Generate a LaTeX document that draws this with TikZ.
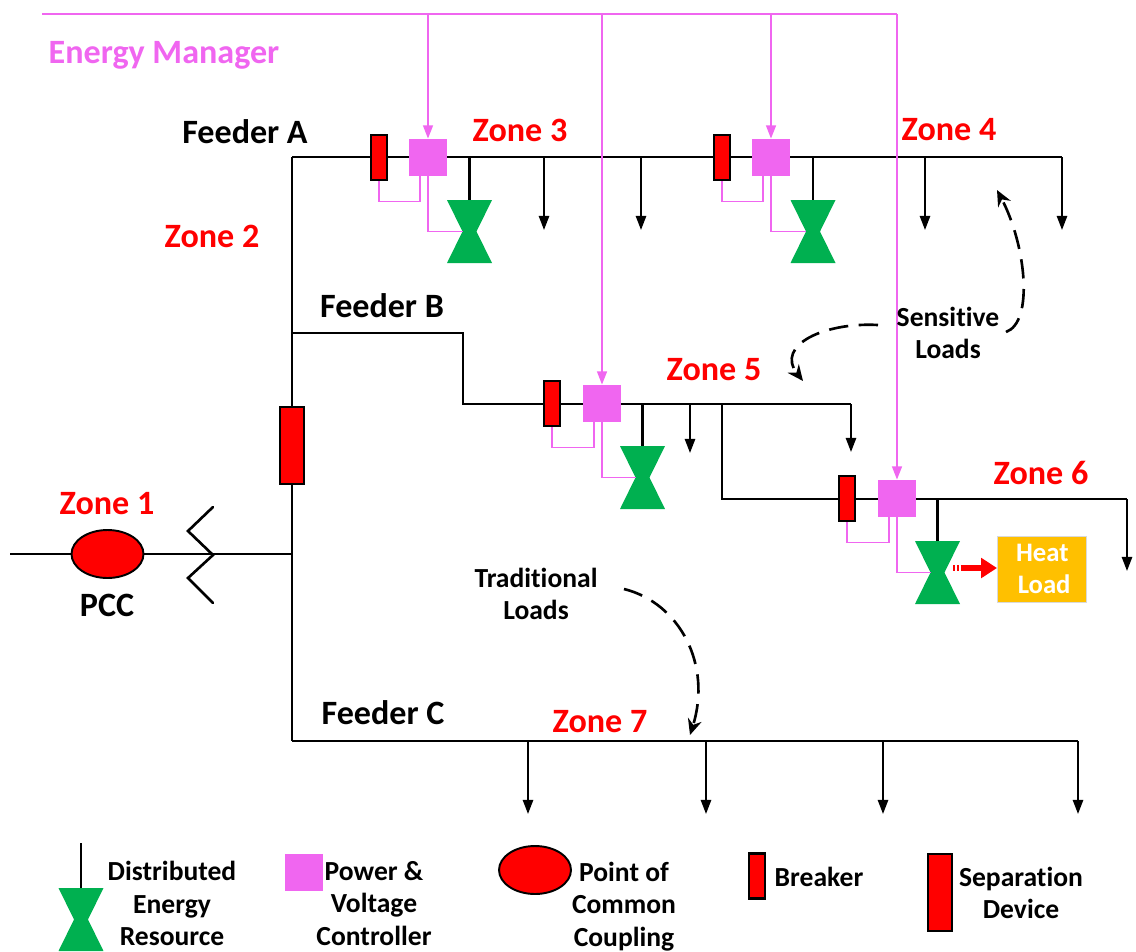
\documentclass[tikz,border=0pt]{standalone}
\usepackage{fontspec}
\setmainfont[Ligatures={NoCommon}]{Carlito}
\usepackage{tikz}
\usetikzlibrary{arrows.meta,positioning,shapes.geometric,calc}
\definecolor{pvcpink}{HTML}{F066F0}
\definecolor{dergreen}{HTML}{00B050}
\definecolor{heatgold}{HTML}{FFC000}
\definecolor{heatedge}{HTML}{D9D9D9}
\begin{document}
\begin{tikzpicture}[
  x=0.02cm,y=-0.02cm,
  bus/.style={line width=1.15pt,draw=black},
  stub/.style={line width=1.5pt,draw=black},
  load/.style={line width=1.15pt,draw=black,-{Triangle[width=5.8pt,length=8pt]}},
  pvc/.style={fill=pvcpink,minimum width=0.76cm,minimum height=0.74cm,inner sep=0pt},
  breaker/.style={draw=black,line width=1.3pt,fill=red,minimum width=0.32cm,minimum height=0.9cm,inner sep=0pt},
  sepdev/.style={draw=black,line width=1pt,fill=red,minimum width=0.48cm,minimum height=1.54cm,inner sep=0pt},
  der/.style={minimum width=0.9cm,minimum height=1.26cm,inner sep=0pt,path picture={
    \fill[dergreen] (path picture bounding box.north west) -- (path picture bounding box.north east)
      -- ([xshift=1.4mm]path picture bounding box.center) -- (path picture bounding box.south east)
      -- (path picture bounding box.south west) -- ([xshift=-1.4mm]path picture bounding box.center) -- cycle;}},
  pcc/.style={ellipse,draw=black,line width=1.1pt,fill=red,minimum width=1.44cm,minimum height=0.96cm,inner sep=0pt},
  ctrl/.style={draw=pvcpink,line width=0.7pt},
  ctrlin/.style={draw=pvcpink,line width=1.2pt,-{Triangle[width=5.5pt,length=7.5pt]}},
  zone/.style={text=red,font=\bfseries\fontsize{19.4}{23}\selectfont,inner sep=0pt},
  feeder/.style={text=black,font=\bfseries\fontsize{19.4}{23}\selectfont,inner sep=0pt},
  legend/.style={text=black,align=center,font=\bfseries\fontsize{15.7}{18.4}\selectfont,inner sep=0pt},
  note/.style={line width=1.5pt,dash pattern=on 11pt off 6pt,-{Stealth[length=9pt,width=8pt]}}
]
  \useasboundingbox (0,0) rectangle (1136,951);

  \coordinate (em) at (42,14);
  \coordinate (emend) at (897,14);
  \coordinate (a0) at (292,157);
  \coordinate (a1) at (1062,157);
  \coordinate (a1end) at (1062,230);
  \coordinate (b0) at (292,333);
  \coordinate (b1) at (463,333);
  \coordinate (b2) at (463,404);
  \coordinate (b3) at (851,404);
  \coordinate (b3end) at (851,452);
  \coordinate (c0) at (722,404);
  \coordinate (c1) at (722,499);
  \coordinate (c2) at (1127,499);
  \coordinate (c2end) at (1127,571);
  \coordinate (f0) at (292,741);
  \coordinate (f1) at (1078,741);
  \coordinate (in) at (10,554);
  \coordinate (t0) at (292,554);
  \coordinate (fk) at (213,555);
  \coordinate (ha) at (953,568);
  \coordinate (hb) at (961,568);
  \coordinate (hc) at (997,568);

  \draw[bus] (a0) -- (a1);
  \draw[load] (a1) -- (a1end);
  \draw[bus] (a0) -- (f0);
  \draw[bus] (b0) -- (b1) -- (b2) -- (b3);
  \draw[load] (b3) -- (b3end);
  \draw[bus] (c0) -- (c1) -- (c2);
  \draw[load] (c2) -- (c2end);
  \draw[bus] (f0) -- (f1);
  \draw[bus] (in) -- (t0);
  \draw[stub,line cap=round] (213,507) -- (188,531) -- (fk) -- (188,578) -- (213,603);

  \node[sepdev] (sep) at (292,445.5) {};
  \node[breaker] (br1) at (379,157.5) {};
  \node[breaker] (br2) at (722,157.5) {};
  \node[breaker] (br3) at (552,403.5) {};
  \node[breaker] (br4) at (847,498.5) {};
  \node[pvc] (pv1) at (428,157.5) {};
  \node[pvc] (pv2) at (771,157.5) {};
  \node[pvc] (pv3) at (602,403.5) {};
  \node[pvc] (pv4) at (897,498.5) {};
  \node[der] (d1) at (469.5,231.5) {};
  \node[der] (d2) at (813,231.5) {};
  \node[der] (d3) at (642.5,477.5) {};
  \node[der] (d4) at (937.5,572.5) {};
  \node[pcc] (pc) at (107.5,554) {};
  \node[draw=heatedge,fill=heatgold,minimum width=1.78cm,minimum height=1.32cm,inner sep=0pt,text=white,align=center,font=\bfseries\fontsize{15.2}{18.4}\selectfont] (heat) at (1041.5,569) {\hspace{1pt}Heat\\\hspace{3pt}Load};

  \draw[stub] (d1.north) -- (d1.north |- a0);
  \draw[stub] (d2.north) -- (d2.north |- a0);
  \draw[stub] (d3.north) -- (d3.north |- b3);
  \draw[stub] (d4.north) -- (d4.north |- c2);

  \foreach \lx in {544,641,925}
    \draw[load] (\lx,157) -- (\lx,230);
  \draw[load] (690,404) -- (690,453);
  \foreach \lx in {528,706,883,1078}
    \draw[load] (\lx,741) -- (\lx,814);

  \draw[draw=pvcpink,line width=1.2pt] (em) -- (emend);
  \foreach \pv in {pv1,pv2,pv3,pv4}
    \draw[ctrlin] (\pv.north |- em) -- (\pv.north);

  \foreach \br/\pv/\dd in {br1/pv1/d1,br2/pv2/d2,br3/pv3/d3,br4/pv4/d4} {
    \draw[ctrl] (\br.south) -- ++(0,20) -| ([xshift=-0.16cm]\pv.south);
    \draw[ctrl,shorten >=0.14cm] (\pv.south) |- (\dd.center);
  }

  \draw[red,line width=3.5pt,dash pattern=on 1.2pt off 1pt] (ha) -- (hb);
  \draw[red,line width=3.5pt,-{Triangle[width=11pt,length=9pt]}] (hb) -- (hc);

  \draw[note] (1006,332) .. controls (1034,322) and (1026,245) .. (997,190);
  \draw[note] (878,325) .. controls (825,322) and (775,345) .. (803,381);
  \draw[note] (624,589) .. controls (680,603) and (712,665) .. (690,735);

  \node[text=pvcpink,font=\bfseries\fontsize{19.4}{23}\selectfont,inner sep=0pt] (emtxt) at (164,55) {Energy Manager};
  \node[feeder] (fa) at (245,132) {Feeder A};
  \node[feeder] (fb) at (382,306) {Feeder B};
  \node[feeder] (fc) at (383,713) {Feeder C};
  \node[zone] (z1) at (107,504) {Zone 1};
  \node[zone] (z2) at (212,236) {Zone 2};
  \node[zone] (z3) at (520,130) {Zone 3};
  \node[zone] (z4) at (949,130) {Zone 4};
  \node[zone] (z5) at (714,370) {Zone 5};
  \node[zone] (z6) at (1041,473) {Zone 6};
  \node[zone] (z7) at (600,722) {Zone 7};
  \node[feeder] (pcctxt) at (107,605) {PCC};
  \node[legend] (sens) at (948,333) {Sensitive\\Loads};
  \node[legend] (trad) at (536,594) {Traditional\\Loads};

  \coordinate (lg0) at (81,843);
  \node[der] (lg1) at (81,919.5) {};
  \draw[bus] (lg0) -- (lg1.north);
  \node[legend] (lg1t) at (172,903.5) {Distributed\\Energy\\Resource};
  \node[pvc] (lg2) at (304,872.5) {};
  \node[legend] (lg2t) at (374,903.5) {Power \&\\Voltage\\Controller};
  \node[pcc] (lg3) at (535,870) {};
  \node[legend] (lg3t) at (624,906.5) {Point of\\Common\\Coupling};
  \node[breaker] (lg4) at (757,876) {};
  \node[legend] (lg4t) at (819,877) {Breaker};
  \node[sepdev] (lg5) at (940,892.5) {};
  \node[legend] (lg5t) at (1021,893) {Separation\\Device};
\end{tikzpicture}
\end{document}
